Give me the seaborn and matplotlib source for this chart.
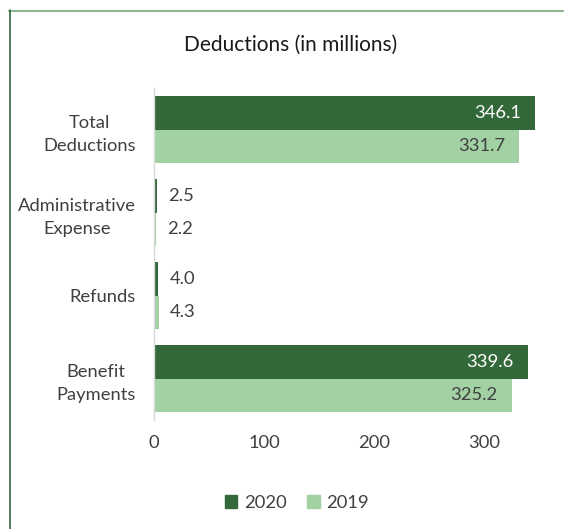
import matplotlib
matplotlib.use("Agg")
import matplotlib.pyplot as plt
from matplotlib.lines import Line2D
import seaborn as sns
import pandas as pd

categories = ["Total\nDeductions", "Administrative\nExpense", "Refunds", "Benefit\nPayments"]
years = ["2020", "2019"]
values_2020 = [346.1, 2.5, 4.0, 339.6]
values_2019 = [331.7, 2.2, 4.3, 325.2]
x_ticks = [0, 100, 200, 300]

dark_green = "#33693A"
light_green = "#A2D1A4"
text_grey = "#404040"
fs = 13.2

df = pd.DataFrame({
    "category": categories * 2,
    "year": [years[0]] * len(categories) + [years[1]] * len(categories),
    "value": values_2020 + values_2019,
})

sns.set_theme(style="white")
plt.rcParams["font.family"] = ["Lato", "DejaVu Sans"]

fig = plt.figure(figsize=(5.65, 5.29), dpi=100)
ax = fig.add_axes([154 / 565, 1 - 420 / 529, (539 - 154) / 565, (420 - 88) / 529])

sns.barplot(data=df, y="category", x="value", hue="year", orient="h",
            palette=[dark_green, light_green], width=0.8, saturation=1,
            order=categories, hue_order=years, ax=ax, legend=False,
            linewidth=0, edgecolor="none")

ax.set_xlim(0, 350)
ax.set_xticks(x_ticks)
ax.set_xticklabels([str(t) for t in x_ticks], fontsize=fs, color=text_grey)
ax.set_xlabel("")
ax.set_ylabel("")
ax.tick_params(axis="both", length=0)
ax.tick_params(axis="x", pad=11)
ax.tick_params(axis="y", pad=13)
for lbl in ax.get_yticklabels():
    lbl.set_multialignment("center")
    lbl.set_fontsize(fs)
    lbl.set_color(text_grey)
    lbl.set_linespacing(1.55)

for side in ["top", "right", "bottom"]:
    ax.spines[side].set_visible(False)
ax.spines["left"].set_color("#D9D9D9")
ax.spines["left"].set_linewidth(1.0)

# value labels: inside the bar end for long bars, just past the end for short ones
for container, vals, inner_color in zip(ax.containers, [values_2020, values_2019], ["white", text_grey]):
    for bar, v in zip(container, vals):
        yc = bar.get_y() + bar.get_height() / 2
        if v > 50:
            ax.annotate(f"{v:.1f}", (v, yc), xytext=(-10, 0), textcoords="offset points",
                        ha="right", va="center", fontsize=fs, color=inner_color)
        else:
            ax.annotate(f"{v:.1f}", (v, yc), xytext=(8, 0), textcoords="offset points",
                        ha="left", va="center", fontsize=fs, color=text_grey)

fig.text(0.515, 1 - 45 / 529, "Deductions (in millions)", ha="center", va="center",
         fontsize=15, color="#1A1A1A")

handles = [plt.Rectangle((0, 0), 1, 1, color=dark_green),
           plt.Rectangle((0, 0), 1, 1, color=light_green)]
fig.legend(handles, years, loc="center", bbox_to_anchor=(0.525, 1 - 503 / 529), ncol=2,
           frameon=False, fontsize=fs, handlelength=0.7, handleheight=0.7,
           handletextpad=0.35, columnspacing=1.1, labelcolor=text_grey)

# outer frame lines
fig.add_artist(Line2D([9 / 565, 563 / 565], [1 - 10.5 / 529, 1 - 10.5 / 529],
                      transform=fig.transFigure, color="#8DB38F", linewidth=1.5))
fig.add_artist(Line2D([9.5 / 565, 9.5 / 565], [1 - 10 / 529, 0],
                      transform=fig.transFigure, color="#2F6A3A", linewidth=1.2))

fig.savefig("out.png", dpi=100, facecolor="white")
